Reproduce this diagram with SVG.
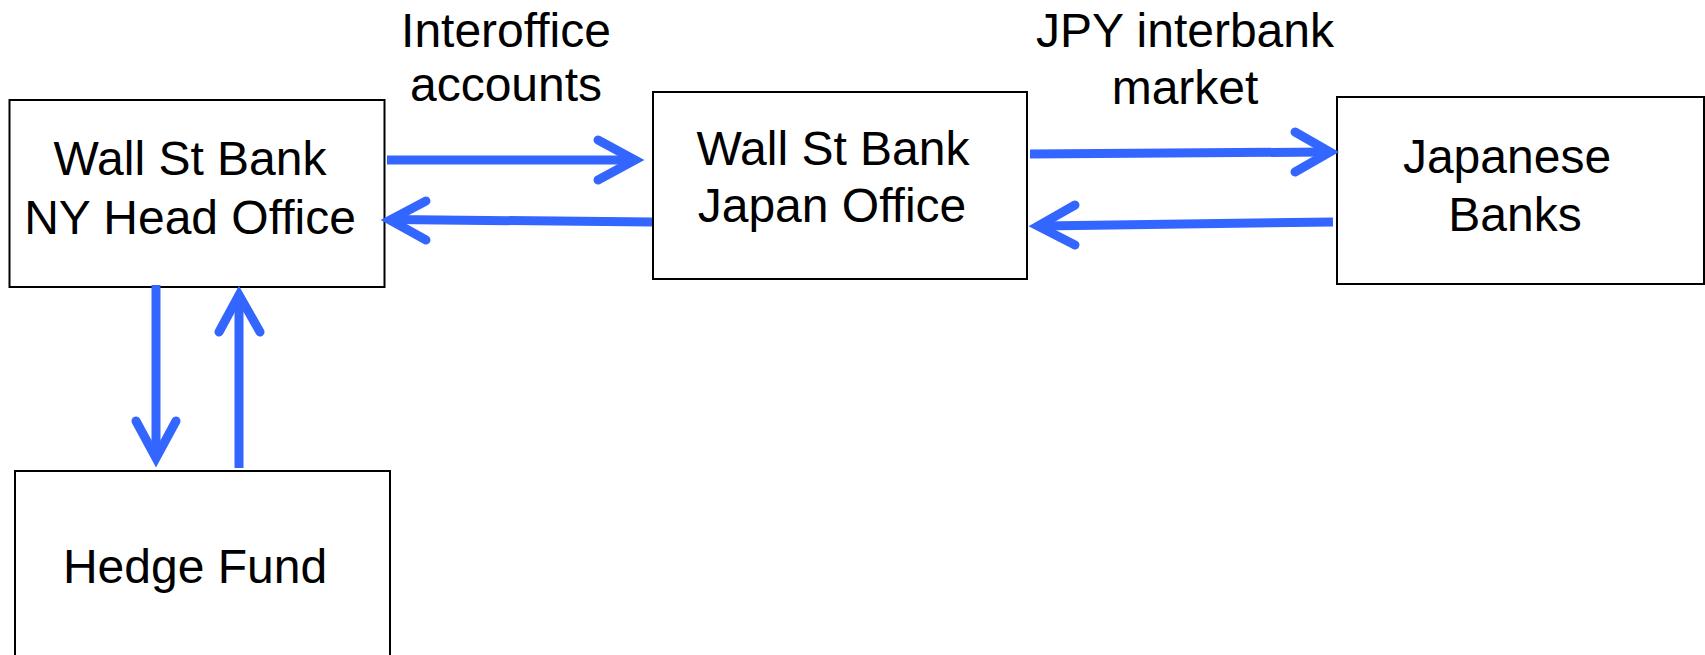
<svg xmlns="http://www.w3.org/2000/svg" width="1705" height="655" viewBox="0 0 1705 655">
<style>
.box{fill:#fff;stroke:#000;stroke-width:2}
.t{font-family:"Liberation Sans",Arial,sans-serif;font-size:48px;fill:#000;text-anchor:middle}
.ln{fill:none;stroke:#3366FF;stroke-width:9;stroke-linecap:butt}
.hd{fill:none;stroke:#3366FF;stroke-width:9;stroke-linecap:round;stroke-linejoin:miter}
</style>
<rect width="1705" height="655" fill="#fff"/>
<g id="ny">
<rect class="box" x="9.5" y="100" width="375" height="187"/>
<text class="t" x="190" y="175">Wall St Bank</text>
<text class="t" x="190" y="234">NY Head Office</text>
</g>
<g id="japan">
<rect class="box" x="653" y="92" width="374" height="187"/>
<text class="t" x="833" y="165">Wall St Bank</text>
<text class="t" x="832" y="222">Japan Office</text>
</g>
<g id="jbanks">
<rect class="box" x="1337" y="97" width="367" height="187"/>
<text class="t" x="1507" y="173">Japanese</text>
<text class="t" x="1515" y="231">Banks</text>
</g>
<g id="hedge">
<rect class="box" x="15" y="471" width="375" height="200"/>
<text class="t" x="195" y="583">Hedge Fund</text>
</g>
<g id="labels">
<text class="t" x="506" y="47">Interoffice</text>
<text class="t" x="506" y="101">accounts</text>
<text class="t" x="1185" y="47">JPY interbank</text>
<text class="t" x="1185" y="104">market</text>
</g>
<g id="connectors">
<path class="ln" d="M387 160 L632 160"/>
<path class="hd" d="M598 140 L635 160 L598 180"/>
<path class="ln" d="M652 222 L393 219.5"/>
<path class="hd" d="M426 201 L390 220 L426 240"/>
<path class="ln" d="M1030 154 L1327 152"/>
<path class="hd" d="M1295 132 L1330 152 L1295 172"/>
<path class="ln" d="M1333 222 L1041 226"/>
<path class="hd" d="M1075 205 L1038 226 L1075 245"/>
<path class="ln" d="M156 285 L156 455"/>
<path class="hd" d="M136 421 L156 458 L176 421"/>
<path class="ln" d="M239 468 L239 298"/>
<path class="hd" d="M219 332 L239 295 L260 332"/>
</g>
</svg>
